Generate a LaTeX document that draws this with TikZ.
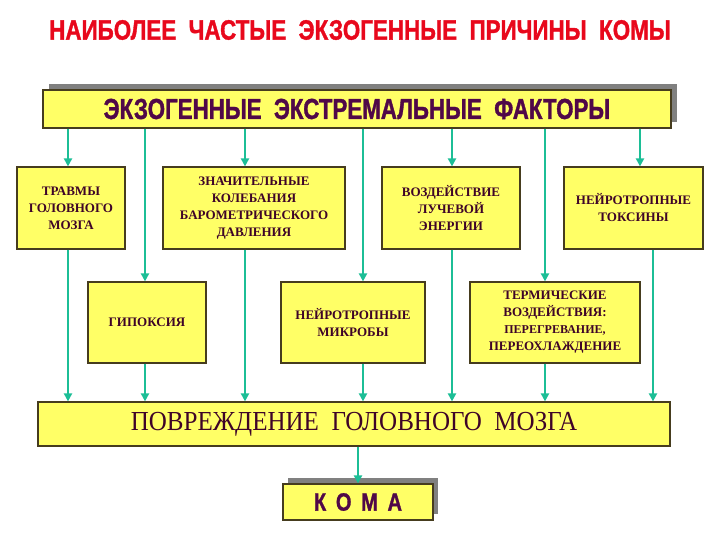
\documentclass[tikz,border=0pt]{standalone}
\usepackage{fontspec}
\setmainfont{Liberation Serif}
\newfontfamily\titlefont[FakeStretch=0.80,FakeBold=1.2]{Liberation Sans}
\newfontfamily\factfont[FakeStretch=0.77,FakeBold=1.2]{Liberation Sans}
\newfontfamily\brainfont[FakeStretch=0.91]{Liberation Serif}
\usetikzlibrary{arrows.meta,positioning,shadows}
\usepackage{xcolor}
\definecolor{komared}{RGB}{232,8,28}
\definecolor{komayellow}{RGB}{255,255,102}
\definecolor{komaedge}{RGB}{70,60,30}
\definecolor{komagray}{RGB}{128,128,128}
\definecolor{komateal}{RGB}{28,190,150}
\definecolor{komaplum}{RGB}{80,8,72}
\definecolor{komamaroon}{RGB}{62,4,40}
\tikzset{
    box/.style={
        draw=komaedge,line width=1.2pt,fill=komayellow,
        align=center,inner sep=2pt,text=komamaroon,
        font=\bfseries\fontsize{13}{17}\selectfont
    },
    shadowbox/.style={
        box,drop shadow={opacity=1,fill=komagray,
        shadow xshift=#1pt,shadow yshift=6pt}
    },
    shadowbox/.default=6,
    flow/.style={
        -{Triangle[length=8pt,width=8pt]},line width=2.6pt,draw=komateal
    }
}
\begin{document}
\begin{tikzpicture}[x=1pt,y=-1pt]

\useasboundingbox (0,0) rectangle (720,540);

\node[text=komared,font=\titlefont\bfseries\fontsize{28}{30}\selectfont]
    (title) at (360,30) {НАИБОЛЕЕ\ \ ЧАСТЫЕ\ \ ЭКЗОГЕННЫЕ\ \ ПРИЧИНЫ\ \ КОМЫ};

\node[shadowbox,minimum width=628pt,minimum height=38pt,text=komaplum,
    font=\factfont\bfseries\fontsize{29}{30}\selectfont]
    (fact) at (357,109) {ЭКЗОГЕННЫЕ\ \ ЭКСТРЕМАЛЬНЫЕ\ \ ФАКТОРЫ};

% first row
\node[box,minimum width=108pt,minimum height=82pt] (trauma) at (71,208)
    {ТРАВМЫ\\ГОЛОВНОГО\\МОЗГА};
\node[box,minimum width=182pt,minimum height=82pt] (baro) at (254,208)
    {ЗНАЧИТЕЛЬНЫЕ\\КОЛЕБАНИЯ\\БАРОМЕТРИЧЕСКОГО\\ДАВЛЕНИЯ};
\node[box,minimum width=138pt,minimum height=82pt] (ray) at (451,208)
    {ВОЗДЕЙСТВИЕ\\ЛУЧЕВОЙ\\ЭНЕРГИИ};
\node[box,minimum width=139pt,minimum height=82pt] (tox) at (633.5,208)
    {НЕЙРОТРОПНЫЕ\\ТОКСИНЫ};

% second row
\node[box,minimum width=118pt,minimum height=81pt] (hypox) at (147,322.5)
    {ГИПОКСИЯ};
\node[box,minimum width=144pt,minimum height=81pt] (micro) at (353,322.5)
    {НЕЙРОТРОПНЫЕ\\МИКРОБЫ};
\node[box,minimum width=170pt,minimum height=81pt] (therm) at (555,322.5)
    {ТЕРМИЧЕСКИЕ\\ВОЗДЕЙСТВИЯ:\\{\fontsize{12}{17}\selectfont ПЕРЕГРЕВАНИЕ,}\\ПЕРЕОХЛАЖДЕНИЕ};

\node[box,minimum width=632pt,minimum height=44pt,
    font=\brainfont\fontsize{27.5}{29}\selectfont]
    (brain) at (354,424) {ПОВРЕЖДЕНИЕ\ \ ГОЛОВНОГО\ \ МОЗГА};

\node[shadowbox=5,minimum width=150pt,minimum height=36pt,text=komaplum,
    font=\titlefont\bfseries\fontsize{25}{26}\selectfont]
    (coma) at (358,502) {К\ \,О\ \,М\ \,А};

% arrows in
\foreach \n/\dx in {trauma/-3,baro/-9,ray/1,tox/6.5,hypox/-2,micro/10,therm/-10}
    \draw[flow] ([xshift=\dx pt]\n.north |- fact.south) -- ([xshift=\dx pt]\n.north);

% arrows out
\foreach \n/\dx in {trauma/-3,baro/-9,ray/1,tox/19.5,hypox/-2,micro/10,therm/-10}
    \draw[flow] ([xshift=\dx pt]\n.south) -- ([xshift=\dx pt]\n.south |- brain.north);

\draw[flow] (brain.south -| coma.north) -- (coma.north);

\end{tikzpicture}
\end{document}
